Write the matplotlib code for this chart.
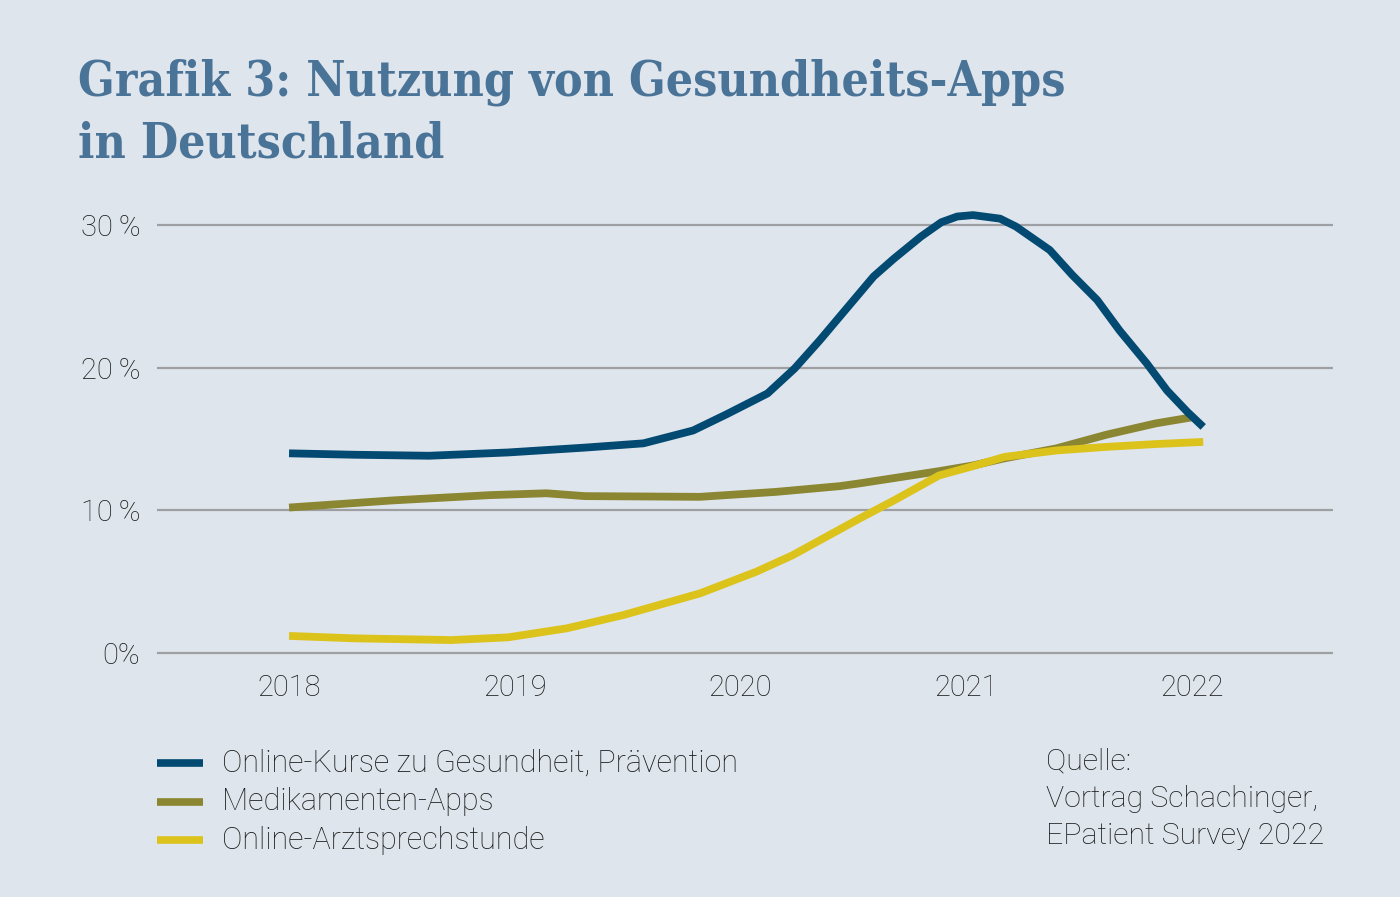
import matplotlib
matplotlib.use("Agg")
import matplotlib.pyplot as plt
from matplotlib.lines import Line2D

# values (year position, percent)
kurse_x = [2018.0, 2018.29, 2018.62, 2018.97, 2019.31, 2019.57, 2019.79, 2019.94,
           2020.12, 2020.24, 2020.35, 2020.47, 2020.59, 2020.68, 2020.80, 2020.89,
           2020.96, 2021.03, 2021.15, 2021.22, 2021.37, 2021.47, 2021.58, 2021.68,
           2021.80, 2021.89, 2021.98, 2022.05]
kurse = [14.0, 13.9, 13.83, 14.06, 14.4, 14.7, 15.6, 16.75,
         18.2, 19.95, 21.9, 24.15, 26.4, 27.65, 29.2, 30.2,
         30.6, 30.7, 30.45, 29.9, 28.25, 26.5, 24.75, 22.6,
         20.3, 18.4, 16.9, 15.85]

medi_x = [2018.0, 2018.46, 2018.89, 2019.14, 2019.31, 2019.82, 2020.16, 2020.44,
          2020.53, 2020.88, 2021.03, 2021.17, 2021.40, 2021.62, 2021.84, 2022.01]
medikamente = [10.2, 10.7, 11.07, 11.2, 11.0, 10.95, 11.3, 11.7,
               11.9, 12.75, 13.15, 13.65, 14.35, 15.3, 16.1, 16.55]

arzt_x = [2018.0, 2018.29, 2018.72, 2018.97, 2019.23, 2019.48, 2019.82, 2020.07,
          2020.23, 2020.38, 2020.53, 2020.68, 2020.88, 2021.03, 2021.17, 2021.40,
          2021.62, 2021.84, 2022.05]
sprechstunde = [1.2, 1.03, 0.91, 1.1, 1.73, 2.66, 4.18, 5.7,
                6.85, 8.15, 9.45, 10.7, 12.45, 13.1, 13.75, 14.2,
                14.45, 14.65, 14.8]

labels = ["Online-Kurse zu Gesundheit, Prävention", "Medikamenten-Apps",
          "Online-Arztsprechstunde"]
colors = ["#024a72", "#8b8632", "#dcc31c"]
year_ticks = [2018, 2019, 2020, 2021, 2022]
y_ticks = [0, 10, 20, 30]
y_labels = ["0%", "10\u2009%", "20\u2009%", "30\u2009%"]
source = ["Quelle:", "Vortrag Schachinger,", "EPatient Survey 2022"]

BG = "#dfe5ec"
TXT = "#1a1a1a"
W, H = 1400, 897
fig = plt.figure(figsize=(14, 8.97), dpi=100, facecolor=BG)

# axes placed so the gridlines land where the reference has them
ax = fig.add_axes([157 / W, 1 - 667.3 / H, (1333 - 157) / W, 0.5248])
ax.set_facecolor(BG)
ax.set_xlim(2017.415, 2022.625)
ax.set_ylim(-1, 32)
for s in ax.spines.values():
    s.set_visible(False)
for y in y_ticks:
    ax.axhline(y, color="#9d9fa3", lw=1.6, zorder=1)

series = [(medi_x, medikamente, colors[1]),
          (arzt_x, sprechstunde, colors[2]),
          (kurse_x, kurse, colors[0])]
for xs, vals, c in series:
    ax.plot(xs, vals, color=c, lw=5.6, solid_capstyle="butt",
            solid_joinstyle="round", zorder=3)

fam = ["Roboto", "DejaVu Sans"]
ax.set_xticks(year_ticks)
ax.set_xticklabels([str(y) for y in year_ticks], family=fam, fontweight="light",
                   fontsize=21, color=TXT)
ax.set_yticks(y_ticks)
ax.set_yticklabels(y_labels, family=fam, fontweight="light", fontsize=21, color=TXT)
ax.tick_params(length=0, axis="x", pad=5)
ax.tick_params(length=0, axis="y", pad=12)

# title, two lines
title_kw = dict(family=["DejaVu Serif"], fontweight="bold", fontstretch="condensed",
                fontsize=34.5, color="#4a7398", va="baseline", ha="left")
fig.text(78 / W, 1 - 95 / H, "Grafik 3: Nutzung von Gesundheits-Apps", **title_kw)
fig.text(78 / W, 1 - 157 / H, "in Deutschland", **title_kw)

# legend
for i, (lab, c) in enumerate(zip(labels, colors)):
    yy = 1 - (763 + 38.5 * i) / H
    fig.add_artist(Line2D([157 / W, 203 / W], [yy, yy], color=c, lw=5.5,
                          solid_capstyle="butt"))
    fig.text(222 / W, yy, lab, family=fam, fontweight="light", fontsize=22,
             color=TXT, va="center", ha="left")

# source
for i, line in enumerate(source):
    fig.text(1046 / W, 1 - (761 + 37.5 * i) / H, line, family=fam, fontweight="light",
             fontsize=21.8, color=TXT, va="center", ha="left")

fig.savefig("out.png", dpi=100, facecolor=BG)
